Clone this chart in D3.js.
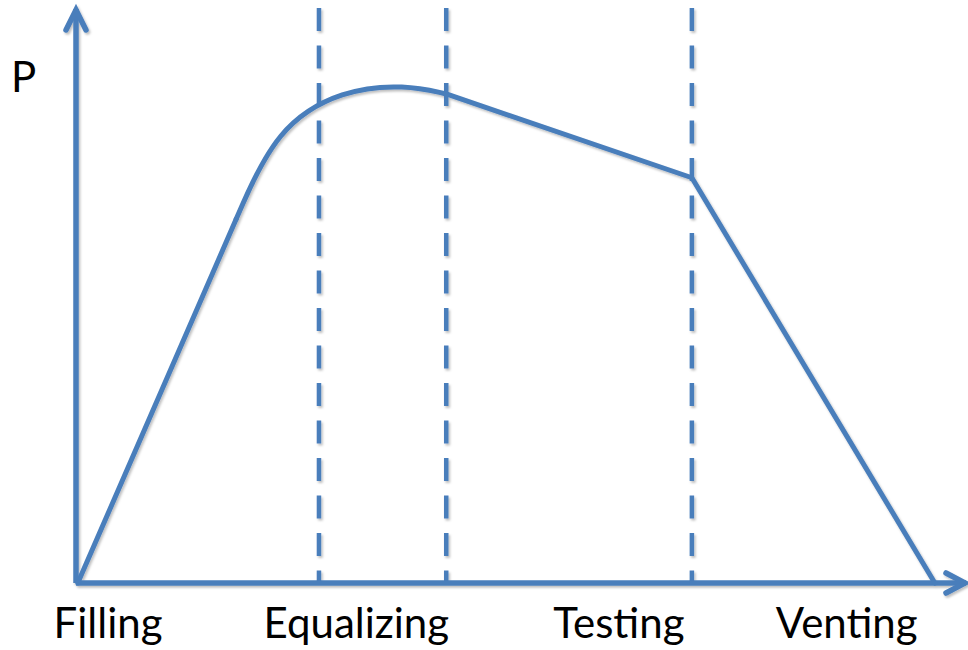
<!DOCTYPE html>
<html>
<head>
<meta charset="utf-8">
<script src="https://cdn.jsdelivr.net/npm/d3@7"></script>
<style>
  html, body { margin: 0; padding: 0; background: #ffffff; }
  svg { display: block; }
  text { font-family: Lato, "Open Sans", sans-serif; fill: #000; }
</style>
</head>
<body>
<svg id="chart" width="968" height="650"></svg>
<script>
// ---- data ----
const axisLabel = "P";
const phaseNames = ["Filling", "Equalizing", "Testing", "Venting"];
const phaseLabelAt = [3.6, 31.5, 61.0, 86.6];      // time position of each phase label
const phaseBoundaries = [27.3, 41.6, 69.2];        // dashed separators (time)
// pressure profile (time, pressure); the rounded top is given as B-spline control points
const profileTime     = [0.2, 18.0, 22.5, 30.0, 37.0, 41.6, 69.2, 96.5];
const profilePressure = [0,   63.4, 79.4, 86.0, 86.8, 85.2, 70.6, 0];
const smoothFrom = 1, smoothTo = 5;                // indices of the rounded section

// ---- layout ----
const blue = "#4a7ebb";
const svg = d3.select("#chart");
const x = d3.scaleLinear().domain([0, 100]).range([76, 966]);
const y = d3.scaleLinear().domain([0, 100]).range([583, 9]);

const defs = svg.append("defs");
const f = defs.append("filter").attr("id", "shadow")
  .attr("x", "-10%").attr("y", "-10%").attr("width", "120%").attr("height", "120%");
f.append("feDropShadow").attr("dx", 1.5).attr("dy", 2).attr("stdDeviation", 1.2)
  .attr("flood-color", "#000").attr("flood-opacity", 0.25);

const g = svg.append("g").attr("filter", "url(#shadow)");

// dashed phase separators
g.selectAll("line.sep").data(phaseBoundaries).join("line")
  .attr("class", "sep")
  .attr("x1", d => x(d)).attr("x2", d => x(d))
  .attr("y1", y(100) - 1).attr("y2", y(0))
  .attr("stroke", blue).attr("stroke-width", 4.5)
  .attr("stroke-dasharray", "23 14.5");

// axes
const yAxisLine = d3.line()([[x(0), y(0)], [x(0), y(100)]]);
const xAxisLine = d3.line()([[x(0), y(0)], [x(100), y(0)]]);
g.append("path").attr("d", yAxisLine).attr("stroke", blue).attr("stroke-width", 5.5).attr("fill", "none");
g.append("path").attr("d", xAxisLine).attr("stroke", blue).attr("stroke-width", 5.5).attr("fill", "none");
// arrowheads
g.append("path")
  .attr("d", d3.line()([[x(0) - 10, y(100) + 21], [x(0), y(100) + 1], [x(0) + 10, y(100) + 21]]))
  .attr("stroke", blue).attr("stroke-width", 5.5).attr("fill", "none")
  .attr("stroke-linejoin", "miter").attr("stroke-linecap", "round");
g.append("path")
  .attr("d", d3.line()([[x(100) - 20, y(0) - 10], [x(100) - 1, y(0)], [x(100) - 20, y(0) + 10]]))
  .attr("stroke", blue).attr("stroke-width", 5.5).attr("fill", "none")
  .attr("stroke-linejoin", "miter").attr("stroke-linecap", "round");

// pressure profile
const pts = profileTime.map((t, i) => [t, profilePressure[i]]);
const lin = d3.line().x(d => x(d[0])).y(d => y(d[1])).curve(d3.curveLinear);
const smooth = d3.line().x(d => x(d[0])).y(d => y(d[1])).curve(d3.curveBasis);
const prof = g.append("g").attr("fill", "none").attr("stroke", blue)
  .attr("stroke-width", 5).attr("stroke-linejoin", "round").attr("stroke-linecap", "round");
prof.append("path").attr("d", lin(pts.slice(0, smoothFrom + 1)));
prof.append("path").attr("d", smooth(pts.slice(smoothFrom, smoothTo + 1)));
prof.append("path").attr("d", lin(pts.slice(smoothTo)));

// labels
svg.append("text").attr("x", 11).attr("y", 92).attr("font-size", 42).text(axisLabel);
svg.selectAll("text.phase").data(phaseNames).join("text")
  .attr("class", "phase")
  .attr("x", (d, i) => x(phaseLabelAt[i]))
  .attr("y", 638)
  .attr("text-anchor", "middle")
  .attr("font-size", 42)
  .text(d => d);
</script>
</body>
</html>
